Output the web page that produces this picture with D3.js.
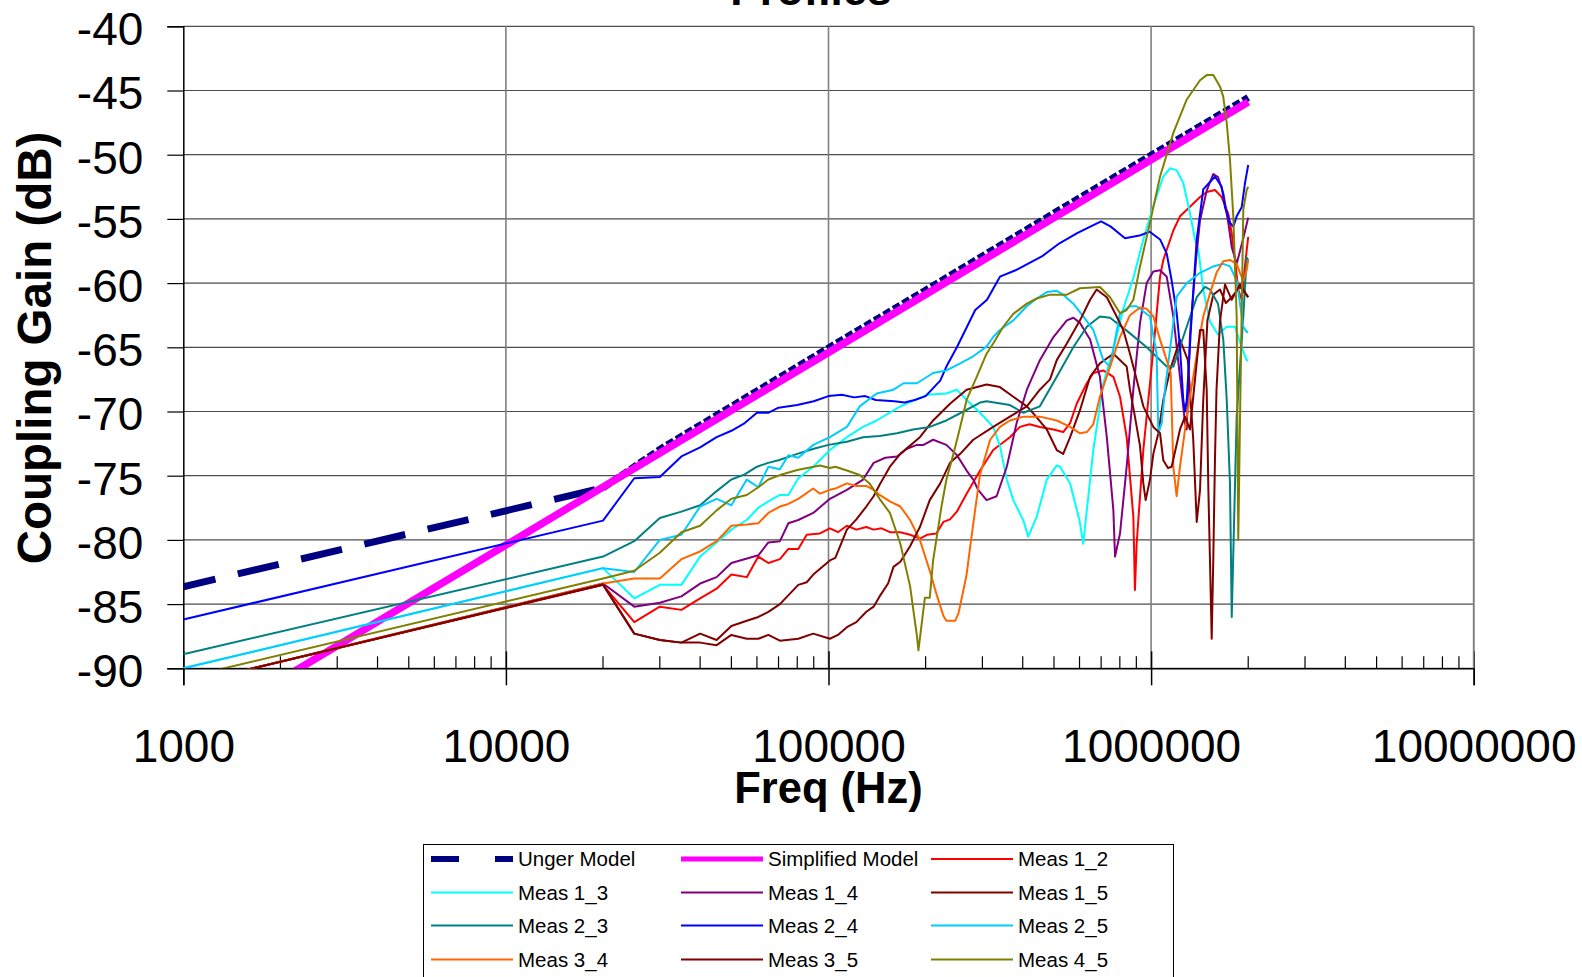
<!DOCTYPE html>
<html>
<head>
<meta charset="utf-8">
<script src="https://cdn.jsdelivr.net/npm/d3@7"></script>
<style>
  html, body { margin: 0; padding: 0; background: #fff; }
  svg { display: block; }
  text { font-family: "Liberation Sans", Arial, sans-serif; }
</style>
</head>
<body>
<svg id="chart" width="1582" height="977"></svg>
<script>
// Axis ticks
const freqTicks = [1000, 10000, 100000, 1000000, 10000000];
const gainTicks = [-90, -85, -80, -75, -70, -65, -60, -55, -50, -45, -40];

// Model curves: [frequency Hz, coupling gain dB]
const ungerModel = [[1000,-83.65],[20000,-75.95],[30000,-72.95],[50000,-69.6],[100000,-65.05],[200000,-60.55],[500000,-54.55],[1000000,-50.05],[2000000,-45.55]];
const simplifiedModel = [[1000,-95.4],[10000,-80.4],[100000,-65.4],[1000000,-50.4],[2000000,-45.9]];

// Measured profiles
const meas_1_2 = [[1000,-91.3],[20000,-83.5],[25000,-86.4],[30000,-85.2],[35000,-85.45],[40000,-84.55],[45000,-83.8],[50000,-82.7],[55800,-82.9],[60600,-81.3],[65100,-81.8],[70700,-81.5],[75100,-80.7],[80600,-80.7],[85600,-79.6],[94100,-79.5],[101000,-79.1],[107000,-79.4],[114000,-78.9],[122000,-79.2],[131000,-79.0],[138000,-79.2],[146000,-79.1],[155000,-79.4],[167000,-79.4],[179000,-79.6],[192000,-79.9],[202000,-79.6],[216000,-79.5],[227000,-78.6],[238000,-78.4],[250000,-77.8],[268000,-76.4],[295000,-74.6],[324000,-73.0],[365000,-72.0],[392000,-71.2],[420000,-71.0],[452000,-71.2],[498000,-71.4],[534000,-71.6],[561000,-70.9],[588000,-69.4],[632000,-67.8],[662000,-67.0],[711000,-66.8],[764000,-67.3],[801000,-68.85],[840000,-72.0],[881000,-78.2],[891000,-83.9],[902000,-80.3],[946000,-73.0],[1016000,-65.2],[1066000,-59.5],[1091000,-58.2],[1118000,-57.4],[1172000,-55.9],[1229000,-54.8],[1320000,-54.05],[1418000,-53.3],[1487000,-52.9],[1578000,-52.75],[1655000,-53.3],[1735000,-54.6],[1778000,-56.1],[1820000,-58.2],[1863000,-60.5],[1909000,-61.3],[1955000,-58.6],[2000000,-56.4]];
const meas_1_3 = [[1000,-90.0],[20000,-82.2],[25000,-84.55],[30000,-83.5],[35000,-83.5],[40000,-81.3],[45000,-80.2],[50000,-79.2],[55800,-78.45],[60600,-77.5],[65100,-77.0],[70700,-76.5],[75100,-76.5],[80600,-75.2],[89700,-74.3],[101000,-73.0],[114000,-72.0],[128000,-71.2],[141000,-70.7],[167000,-69.6],[202000,-68.7],[232000,-68.6],[250000,-68.3],[268000,-69.1],[295000,-70.1],[324000,-71.2],[340000,-72.7],[357000,-75.3],[374000,-76.9],[402000,-78.5],[416000,-79.75],[442000,-78.2],[475000,-75.3],[510000,-74.2],[522000,-74.3],[561000,-75.6],[600000,-78.5],[616000,-80.3],[662000,-73.0],[711000,-67.8],[764000,-65.2],[820000,-62.0],[881000,-59.6],[946000,-56.6],[1016000,-54.0],[1091000,-51.7],[1144000,-51.06],[1200000,-51.2],[1258000,-52.2],[1320000,-54.56],[1368000,-56.6],[1401000,-57.4],[1451000,-60.5],[1523000,-63.0],[1612000,-64.0],[1716000,-63.4],[1820000,-63.4],[1909000,-65.0],[1978000,-66.0],[2000000,-66.0]];
const meas_1_4 = [[1000,-91.3],[20000,-83.4],[25000,-85.2],[30000,-84.9],[35000,-84.4],[40000,-83.4],[45000,-82.9],[50000,-81.8],[60600,-81.2],[65100,-80.2],[70700,-80.1],[75100,-78.7],[80600,-78.45],[89700,-77.9],[101000,-76.8],[114000,-76.1],[128000,-75.3],[138000,-74.0],[150000,-73.6],[163000,-73.5],[175000,-72.9],[188000,-72.6],[197000,-72.6],[211000,-72.2],[232000,-72.6],[250000,-73.4],[268000,-74.6],[281000,-75.3],[291000,-76.1],[309000,-76.9],[332000,-76.6],[357000,-74.3],[383000,-70.9],[412000,-68.3],[452000,-66.0],[498000,-64.2],[548000,-62.9],[574000,-62.7],[602000,-63.1],[647000,-64.4],[694000,-67.3],[729000,-72.0],[764000,-77.7],[773000,-81.3],[801000,-79.5],[840000,-74.3],[881000,-68.3],[924000,-63.1],[969000,-60.0],[1016000,-59.1],[1066000,-59.0],[1118000,-59.5],[1172000,-62.6],[1229000,-67.3],[1274000,-70.9],[1290000,-71.4],[1320000,-64.0],[1380000,-58.0],[1418000,-55.1],[1487000,-52.8],[1559000,-51.5],[1612000,-51.75],[1674000,-53.0],[1735000,-55.3],[1778000,-57.2],[1842000,-58.5],[1931000,-56.5],[2000000,-54.9]];
const meas_1_5 = [[1000,-91.3],[20000,-83.5],[25000,-87.3],[30000,-87.8],[35000,-88.0],[40000,-87.3],[45000,-87.8],[50000,-86.7],[55800,-86.3],[60600,-86.0],[65100,-85.6],[70700,-85.0],[80600,-83.5],[85600,-83.3],[89700,-82.7],[101000,-81.6],[105000,-81.4],[114000,-79.2],[122000,-78.4],[131000,-77.4],[138000,-76.6],[144000,-75.7],[155000,-74.3],[167000,-73.3],[192000,-72.0],[211000,-70.7],[238000,-69.4],[268000,-68.3],[309000,-67.9],[340000,-68.1],[374000,-68.85],[412000,-69.6],[430000,-70.1],[475000,-71.4],[510000,-73.0],[534000,-73.3],[561000,-72.0],[602000,-69.9],[647000,-67.3],[694000,-66.25],[764000,-65.5],[840000,-66.5],[860000,-68.3],[891000,-70.4],[924000,-72.7],[946000,-75.6],[962000,-76.9],[992000,-75.3],[1016000,-73.3],[1053000,-71.7],[1091000,-69.1],[1144000,-66.8],[1229000,-64.4],[1300000,-66.0],[1351000,-72.2],[1385000,-78.6],[1418000,-76.1],[1451000,-69.1],[1495000,-62.9],[1559000,-60.9],[1636000,-60.5],[1705000,-61.55],[1778000,-61.1],[1886000,-60.3],[2000000,-61.1]];
const meas_2_3 = [[1000,-88.9],[20000,-81.3],[25000,-80.1],[30000,-78.3],[35000,-77.8],[40000,-77.3],[45000,-76.2],[50000,-75.3],[55000,-74.9],[60000,-74.3],[65000,-74.0],[70000,-73.8],[80000,-73.3],[90000,-72.9],[100000,-72.6],[114000,-72.35],[128000,-72.0],[144000,-71.9],[163000,-71.7],[183000,-71.4],[206000,-71.2],[232000,-70.7],[262000,-70.0],[295000,-69.3],[309000,-69.2],[365000,-69.5],[402000,-70.1],[452000,-69.6],[510000,-67.3],[574000,-65.0],[632000,-63.4],[694000,-62.6],[746000,-62.7],[840000,-63.7],[969000,-65.0],[1118000,-66.5],[1172000,-66.5],[1258000,-64.2],[1385000,-61.1],[1469000,-60.3],[1523000,-60.5],[1612000,-61.6],[1674000,-64.4],[1716000,-69.1],[1756000,-75.6],[1778000,-86.0],[1842000,-70.4],[1931000,-62.6],[1978000,-58.0],[2000000,-58.2]];
const meas_2_4 = [[1000,-86.2],[20000,-78.5],[25000,-75.2],[30000,-75.1],[35000,-73.5],[40000,-72.8],[45000,-72.0],[50000,-71.5],[55000,-70.9],[60000,-70.1],[65000,-70.1],[70000,-69.7],[80000,-69.5],[90000,-69.2],[100000,-68.8],[110000,-68.7],[120000,-68.9],[130000,-68.8],[140000,-69.1],[160000,-69.2],[172000,-69.3],[185000,-69.1],[200000,-68.8],[222000,-67.6],[232000,-66.5],[250000,-65.0],[285000,-62.1],[310000,-61.3],[340000,-59.5],[380000,-59.0],[460000,-57.9],[520000,-56.9],[590000,-56.1],[660000,-55.5],[700000,-55.2],[750000,-55.6],[830000,-56.5],[920000,-56.3],[990000,-56.0],[1066000,-56.6],[1118000,-57.7],[1158000,-59.8],[1200000,-62.3],[1229000,-65.0],[1258000,-69.1],[1274000,-70.0],[1290000,-69.1],[1340000,-62.0],[1385000,-56.6],[1451000,-52.7],[1578000,-51.7],[1655000,-52.5],[1695000,-54.1],[1756000,-55.3],[1798000,-55.6],[1842000,-54.8],[1909000,-54.1],[1955000,-52.2],[2000000,-50.8]];
const meas_2_5 = [[1000,-90.0],[20000,-82.2],[25000,-82.5],[30000,-80.0],[35000,-79.6],[40000,-77.4],[45000,-76.8],[50000,-77.3],[55800,-75.3],[60600,-75.9],[65100,-74.3],[70700,-74.5],[75100,-73.4],[80600,-73.6],[89700,-72.6],[101000,-72.0],[114000,-71.2],[125000,-69.6],[141000,-68.6],[159000,-68.3],[171000,-67.8],[188000,-67.8],[211000,-67.0],[232000,-66.8],[256000,-66.25],[281000,-65.7],[309000,-64.95],[324000,-64.2],[340000,-63.65],[374000,-62.9],[412000,-61.8],[442000,-61.2],[475000,-60.7],[510000,-60.6],[534000,-60.9],[574000,-61.6],[616000,-62.6],[662000,-63.65],[711000,-66.0],[746000,-66.5],[801000,-62.35],[860000,-61.8],[902000,-61.8],[992000,-62.6],[1040000,-65.5],[1053000,-71.7],[1079000,-70.9],[1104000,-68.3],[1200000,-61.06],[1290000,-60.0],[1418000,-59.2],[1559000,-58.7],[1674000,-58.5],[1756000,-58.7],[1842000,-59.8],[1931000,-63.4],[1978000,-63.8],[2000000,-63.8]];
const meas_3_4 = [[1000,-91.3],[20000,-83.4],[25000,-83.0],[30000,-83.0],[35000,-81.5],[40000,-80.9],[45000,-80.1],[50000,-78.9],[55800,-78.8],[60600,-78.7],[65100,-77.9],[70700,-77.4],[75100,-77.2],[80600,-76.8],[89700,-76.0],[94100,-76.4],[101000,-76.1],[105000,-76.0],[114000,-75.6],[122000,-75.8],[131000,-75.8],[138000,-76.1],[144000,-76.5],[155000,-77.0],[167000,-77.4],[179000,-78.45],[192000,-80.0],[206000,-82.4],[216000,-84.2],[227000,-85.9],[232000,-86.3],[247000,-86.3],[253000,-85.7],[262000,-83.9],[268000,-82.7],[275000,-80.5],[285000,-77.6],[295000,-74.9],[317000,-72.2],[340000,-71.2],[365000,-70.7],[402000,-70.4],[452000,-70.4],[510000,-70.7],[561000,-71.2],[602000,-71.7],[632000,-71.6],[662000,-71.0],[694000,-68.85],[746000,-66.5],[801000,-64.2],[860000,-62.5],[924000,-61.9],[969000,-62.0],[1016000,-62.6],[1066000,-64.4],[1118000,-66.0],[1150000,-67.0],[1172000,-74.3],[1200000,-76.6],[1229000,-74.3],[1290000,-70.4],[1351000,-67.3],[1401000,-64.8],[1451000,-62.6],[1523000,-60.8],[1595000,-59.2],[1674000,-58.3],[1756000,-58.2],[1842000,-58.5],[1886000,-59.2],[1931000,-59.8],[1978000,-59.0],[2000000,-58.2]];
const meas_3_5 = [[1000,-91.3],[20000,-83.45],[25000,-87.3],[30000,-87.8],[35000,-88.0],[40000,-88.0],[45000,-88.2],[50000,-87.4],[55800,-87.7],[60600,-87.7],[65100,-87.4],[70700,-87.85],[80600,-87.7],[89700,-87.3],[101000,-87.7],[107000,-87.4],[114000,-86.8],[122000,-86.4],[131000,-85.6],[138000,-85.2],[144000,-84.4],[153000,-83.4],[159000,-82.1],[167000,-81.7],[179000,-80.5],[192000,-79.0],[206000,-76.9],[222000,-75.6],[238000,-74.0],[256000,-73.3],[281000,-72.2],[324000,-71.2],[365000,-70.4],[412000,-69.6],[452000,-68.3],[486000,-67.5],[510000,-66.0],[548000,-64.7],[602000,-62.9],[647000,-61.3],[678000,-60.5],[729000,-61.1],[782000,-62.6],[820000,-63.65],[860000,-65.5],[902000,-67.5],[946000,-69.6],[1016000,-71.2],[1066000,-71.7],[1091000,-73.8],[1128000,-74.4],[1158000,-74.3],[1229000,-71.4],[1274000,-70.4],[1320000,-71.4],[1368000,-67.5],[1418000,-63.65],[1451000,-63.65],[1487000,-68.3],[1505000,-76.1],[1523000,-81.8],[1541000,-87.7],[1559000,-81.4],[1578000,-73.5],[1595000,-68.3],[1636000,-62.9],[1695000,-60.1],[1778000,-61.3],[1886000,-60.1],[2000000,-61.1]];
const meas_4_5 = [[1000,-90.75],[20000,-83.0],[25000,-82.4],[30000,-81.0],[35000,-79.4],[40000,-78.9],[45000,-77.7],[50000,-76.8],[55800,-76.5],[60600,-75.9],[65100,-75.3],[70700,-74.95],[80000,-74.56],[94100,-74.2],[101000,-74.4],[105000,-74.3],[114000,-74.6],[125000,-74.95],[134000,-75.6],[144000,-76.8],[155000,-77.9],[167000,-80.3],[179000,-83.6],[188000,-87.5],[190000,-88.6],[199000,-84.5],[206000,-84.5],[211000,-81.6],[224000,-77.4],[232000,-75.3],[244000,-73.3],[256000,-71.2],[268000,-69.1],[288000,-67.3],[309000,-65.5],[324000,-64.7],[348000,-63.4],[374000,-62.4],[412000,-61.6],[442000,-61.2],[486000,-60.9],[548000,-60.9],[602000,-60.4],[694000,-60.3],[746000,-61.1],[801000,-62.35],[840000,-62.1],[881000,-61.3],[924000,-58.7],[992000,-55.3],[1066000,-51.7],[1172000,-48.3],[1290000,-45.7],[1418000,-44.2],[1487000,-43.8],[1559000,-43.8],[1636000,-44.7],[1674000,-45.5],[1716000,-47.55],[1756000,-50.4],[1798000,-54.8],[1820000,-58.7],[1842000,-62.6],[1863000,-80.0],[1886000,-70.7],[1931000,-54.3],[1978000,-52.75],[2000000,-52.5]];

// Series in drawing order (later entries are drawn on top)
const seriesNames = ["Unger Model", "Simplified Model", "Meas 1_2", "Meas 1_3", "Meas 1_4", "Meas 1_5", "Meas 2_3", "Meas 2_4", "Meas 2_5", "Meas 3_4", "Meas 3_5", "Meas 4_5"];
const seriesData = [ungerModel, simplifiedModel, meas_1_2, meas_1_3, meas_1_4, meas_1_5, meas_2_3, meas_2_4, meas_2_5, meas_3_4, meas_3_5, meas_4_5];
const seriesColors = ["#000080", "#FF00FF", "#FF0000", "#00FFFF", "#800080", "#800000", "#008080", "#0000FF", "#00CCFF", "#FF6600", "#800000", "#808000"];

const svg = d3.select("#chart");
const plot = { left: 183.3, right: 1473.7, top: 26.3, bottom: 668.3 };

const x = d3.scaleLog().domain([1000, 10000000]).range([plot.left, plot.right]);
const y = d3.scaleLinear().domain([-90, -40]).range([plot.bottom, plot.top]);
const plainNumber = d => String(d);

svg.append("defs").append("clipPath").attr("id", "plotClip")
  .append("rect")
  .attr("x", plot.left).attr("y", plot.top)
  .attr("width", plot.right - plot.left).attr("height", plot.bottom - plot.top);

// Title (runs off the top edge of the canvas)
svg.append("text")
  .attr("x", 811).attr("y", 5)
  .attr("text-anchor", "middle")
  .attr("font-size", 44).attr("font-weight", "bold")
  .text("Profiles");

// Horizontal gridlines
svg.append("g")
  .selectAll("line").data(gainTicks).join("line")
  .attr("x1", plot.left).attr("x2", plot.right)
  .attr("y1", d => y(d)).attr("y2", d => y(d))
  .attr("stroke", "#4d4d4d").attr("stroke-width", 1.2);

// Vertical gridlines at decades
svg.append("g")
  .selectAll("line").data(freqTicks.slice(1)).join("line")
  .attr("x1", d => x(d)).attr("x2", d => x(d))
  .attr("y1", plot.top).attr("y2", plot.bottom)
  .attr("stroke", "#808080").attr("stroke-width", 1.6);

// Y axis
const yAxis = d3.axisLeft(y).tickValues(gainTicks).tickSize(16).tickPadding(24).tickFormat(plainNumber);
const gy = svg.append("g").attr("transform", `translate(${plot.left},0)`).call(yAxis);
gy.select(".domain").attr("stroke", "#000").attr("stroke-width", 1.5);
gy.selectAll(".tick line").attr("stroke", "#000").attr("stroke-width", 1.2);
gy.selectAll(".tick text")
  .attr("font-family", "'Liberation Sans', Arial, sans-serif")
  .attr("font-size", 46).attr("fill", "#000")
  .attr("dy", "0.40em");

// X axis: minor ticks inside, major ticks crossing the axis line
const minorTicks = [];
freqTicks.slice(0, -1).forEach(d => { for (let k = 2; k <= 9; k++) minorTicks.push(d * k); });
svg.append("g")
  .selectAll("line").data(minorTicks).join("line")
  .attr("x1", d => x(d)).attr("x2", d => x(d))
  .attr("y1", plot.bottom - 12).attr("y2", plot.bottom)
  .attr("stroke", "#000").attr("stroke-width", 1.2);

const xAxis = d3.axisBottom(x).tickValues(freqTicks).tickSize(17).tickPadding(44).tickFormat(plainNumber);
const gx = svg.append("g").attr("transform", `translate(0,${plot.bottom})`).call(xAxis);
gx.select(".domain").attr("stroke", "#000").attr("stroke-width", 1.5);
gx.selectAll(".tick line").attr("stroke", "#000").attr("stroke-width", 1.5).attr("y1", -17);
gx.selectAll(".tick text")
  .attr("font-family", "'Liberation Sans', Arial, sans-serif")
  .attr("font-size", 46).attr("fill", "#000");

// Right-hand frame edge
svg.append("line")
  .attr("x1", plot.right).attr("x2", plot.right)
  .attr("y1", plot.top).attr("y2", plot.bottom)
  .attr("stroke", "#808080").attr("stroke-width", 1.6);

// Axis titles
svg.append("text")
  .attr("x", (plot.left + plot.right) / 2).attr("y", 803)
  .attr("text-anchor", "middle")
  .attr("font-size", 43.5).attr("font-weight", "bold")
  .text("Freq (Hz)");
svg.append("text")
  .attr("transform", "translate(51,348) rotate(-90)")
  .attr("text-anchor", "middle")
  .attr("font-size", 47.5).attr("font-weight", "bold")
  .text("Coupling Gain (dB)");

// Data lines
const line = d3.line().x(d => x(d[0])).y(d => y(d[1]));
const lines = svg.append("g").attr("clip-path", "url(#plotClip)")
  .attr("fill", "none").attr("stroke-linejoin", "round");

// Unger model: long dashes on the sparse low band, short dashes where it is densely sampled
lines.append("path").datum(ungerModel.slice(0, 2)).attr("d", line)
  .attr("stroke", seriesColors[0]).attr("stroke-width", 7)
  .attr("stroke-dasharray", "42,23").attr("stroke-dashoffset", 9);
lines.append("path").datum(ungerModel.slice(1)).attr("d", line)
  .attr("stroke", seriesColors[0]).attr("stroke-width", 7)
  .attr("stroke-dasharray", "8,3");

lines.append("path").datum(simplifiedModel).attr("d", line)
  .attr("stroke", seriesColors[1]).attr("stroke-width", 7.5);

seriesData.slice(2).forEach((data, i) => {
  lines.append("path").datum(data).attr("d", line)
    .attr("stroke", seriesColors[i + 2]).attr("stroke-width", 2);
});

// Legend
const legend = svg.append("g");
legend.append("rect")
  .attr("x", 423.5).attr("y", 844.5).attr("width", 750).attr("height", 150)
  .attr("fill", "#fff").attr("stroke", "#000").attr("stroke-width", 1);

const colX = [431, 681, 931];
const rowY = [859, 892.5, 925.5, 959.5];
seriesNames.forEach((name, i) => {
  const cx = colX[i % 3], cy = rowY[Math.floor(i / 3)];
  const sample = legend.append("line")
    .attr("x1", cx).attr("x2", cx + 82)
    .attr("y1", cy).attr("y2", cy)
    .attr("stroke", seriesColors[i])
    .attr("stroke-width", i === 0 ? 6 : (i === 1 ? 5 : 2));
  if (i === 0) sample.attr("stroke-dasharray", "28,36");
  legend.append("text")
    .attr("x", cx + 87).attr("y", cy + 7.3)
    .attr("font-size", 20.5).attr("fill", "#000")
    .text(name);
});
</script>
</body>
</html>
